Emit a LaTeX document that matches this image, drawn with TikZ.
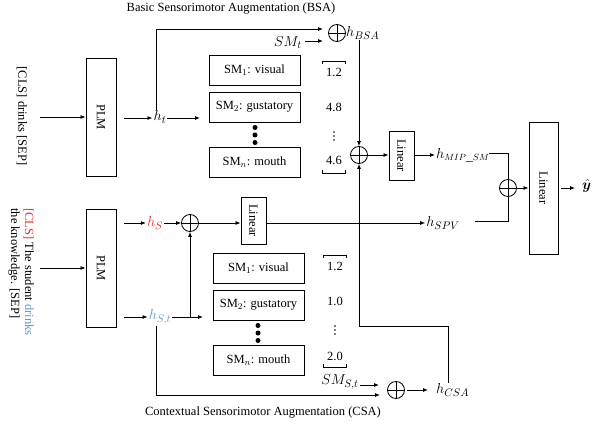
\documentclass[tikz,border=0pt]{standalone}
\usepackage{fontspec}
\setmainfont{Liberation Serif}
\usepackage{bm}
\usetikzlibrary{arrows.meta}
\definecolor{myred}{RGB}{250,40,40}
\definecolor{myblue}{RGB}{90,150,215}
\tikzset{
  every node/.style={font=\fontsize{12.5}{14}\selectfont},
  ln/.style={line width=0.8pt},
  ar/.style={line width=0.8pt,-{Latex[length=5pt,width=4pt]}},
  vbox/.style={draw,line width=0.9pt,inner sep=0,minimum width=#1},
  smbox/.style={draw,line width=0.9pt,inner sep=0,minimum width=91pt,minimum height=30pt},
  opl/.style={circle,draw,line width=0.8pt,inner sep=0,minimum size=17pt,
    path picture={\draw[line width=0.8pt] (path picture bounding box.north)--(path picture bounding box.south)
    (path picture bounding box.west)--(path picture bounding box.east);}},
  lab/.style={inner sep=1pt,font=\fontsize{15}{17}\selectfont},
  sdot/.style={circle,fill,inner sep=0,minimum size=1.6pt},
  bdot/.style={circle,fill,inner sep=0,minimum size=5pt},
}
\begin{document}
\begin{tikzpicture}[x=1pt,y=-1pt]
\useasboundingbox (0,0) rectangle (598,428);
% titles
\node (t1) at (231,9) {Basic Sensorimotor Augmentation (BSA)};
\node (t2) at (263,413) {Contextual Sensorimotor Augmentation (CSA)};
% ---------- top branch ----------
\node[rotate=-90] (in1) at (22,116) {[CLS] drinks [SEP]};
\node[vbox=30pt,minimum height=118pt] (plm1) at (101,117) {};
\node[rotate=-90] at (plm1.center) {PLM};
\coordinate (in1e) at (40,117);
\draw[ar] (in1e) -- (plm1.west);
\node[lab] (ht) at (160,117) {$h_t$};
\coordinate (plm1o) at (124,118);
\draw[ar] (plm1o) -- (ht.west |- plm1o);
\node[smbox] (a1) at (254.5,70.5) {SM$_1$: visual};
\node[smbox] (a2) at (254.5,107) {SM$_2$: gustatory};
\node[smbox] (a3) at (254.5,162) {SM$_n$: mouth};
\node[bdot] (ad1) at (255,127.5) {};
\node[bdot] (ad2) at (255,135) {};
\node[bdot] (ad3) at (255,142.5) {};
\coordinate (hte) at (200,118);
\draw[ar] (ht.east |- hte) -- (hte);
% values top
\node (v1) at (334,72) {1.2};
\node (v2) at (334,107) {4.8};
\node[sdot] (v3a) at (334,132) {};
\node[sdot] (v3b) at (334,136) {};
\node[sdot] (v3c) at (334,140) {};
\node (v4) at (334,160) {4.6};
\draw[line width=0.6pt] (322,64)--(322,61)--(345,61)--(345,64);
\draw[line width=0.6pt] (322,170)--(322,173)--(345,173)--(345,170);
% BSA oplus
\node[opl] (obsa) at (337,33) {};
\coordinate (htup) at (156,29);
\coordinate (htupe) at (323,29);
\draw[ar] (ht.north -| htup) -- (htup) -- (htupe);
\node[lab] (smt) at (288,43) {$SM_t$};
\coordinate (smte) at (323,41);
\draw[ar] (smt.east |- smte) ++(2,0) -- (smte);
\node[lab,anchor=west] (hbsa) at (345,33) {$h_{BSA}$};
% middle oplus
\node[opl] (omid) at (359,155) {};
\draw[ar] (hbsa.south -| omid) -- (omid.north);
\node[vbox=25pt,minimum height=49pt] (lin1) at (401.5,155.5) {};
\node[rotate=-90] at (lin1.center) {Linear};
\draw[ar] (omid.east) -- (lin1.west |- omid.east);
\node[lab,anchor=west,font=\fontsize{13.5}{15}\selectfont] (hmip) at (435,155) {$h_{MIP\_SM}$};
\draw[ar] (lin1.east |- hmip.west) -- (hmip.west);
% final
\node[opl] (ofin) at (508,188) {};
\node[vbox=29pt,minimum height=132pt] (lin2) at (543.5,188) {};
\node[rotate=-90] at (lin2.center) {Linear};
\draw[ar] (ofin.east) -- (lin2.west |- ofin.east);
\node[lab,anchor=west] (yhat) at (581,186) {$\hat{\bm y}$};
\coordinate (ye) at (575,188);
\draw[ar] (lin2.east |- ye) ++(3,0) -- (ye);
\node[lab] (hspv) at (443,223) {$h_{SPV}$};
\coordinate (hm2) at (489,153);
\coordinate (hs2) at (475,221);
\draw[ln] (hm2) -- (ofin.north |- hm2) -- (ofin.north);
\draw[ln] (ofin.south) -- (ofin.south |- hs2) -- (hs2);
% ---------- bottom branch ----------
\node[rotate=-90,align=left] (in2) at (21,272) {\textcolor{myred}{[CLS]} The student \textcolor{myblue}{drinks}\\the knowledge. [SEP]};
\node[vbox=30pt,minimum height=118pt] (plm2) at (101,268) {};
\node[rotate=-90] at (plm2.center) {PLM};
\coordinate (in2e) at (40,268);
\draw[ar] (in2e) -- (plm2.west);
\node[lab,text=myred] (hs) at (155,223) {$h_S$};
\node[lab,text=myblue] (hst) at (160,317) {$h_{S,t}$};
\coordinate (plm2a) at (124,223);
\coordinate (plm2b) at (124,317);
\draw[ar] (plm2a) -- (hs.west |- plm2a);
\draw[ar] (plm2b) -- (hst.west |- plm2b);
\node[opl] (os) at (190,223) {};
\draw[ar] (hs.east |- os.west) -- (os.west);
\node[vbox=25pt,minimum height=47pt] (lin3) at (253.5,220.5) {};
\node[rotate=-90] at (lin3.center) {Linear};
\draw[ar] (os.east) -- (lin3.west |- os.east);
\draw[ar] (lin3.east |- os.east) -- (hspv.west |- os.east);
\node[smbox] (b1) at (258.5,268) {SM$_1$: visual};
\node[smbox] (b2) at (258.5,305) {SM$_2$: gustatory};
\node[smbox] (b3) at (258.5,360) {SM$_n$: mouth};
\node[bdot] (bd1) at (258,325.5) {};
\node[bdot] (bd2) at (258,333) {};
\node[bdot] (bd3) at (258,340.5) {};
\coordinate (hste) at (203,317);
\draw[ar] (hst.east |- hste) -- (hste);
\draw[ar] (os.south |- hste) -- (os.south);
% values bottom
\node (w1) at (335,266) {1.2};
\node (w2) at (335,301) {1.0};
\node[sdot] (w3a) at (335,326) {};
\node[sdot] (w3b) at (335,330) {};
\node[sdot] (w3c) at (335,334) {};
\node (w4) at (335,356) {2.0};
\draw[line width=0.6pt] (323,258)--(323,255)--(346,255)--(346,258);
\draw[line width=0.6pt] (323,364)--(323,367)--(346,367)--(346,364);
% CSA
\node[opl] (ocsa) at (396,390) {};
\node[lab] (smst) at (340,382) {$SM_{S,t}$};
\coordinate (smste) at (379,385);
\draw[ar] (smst.east |- smste) -- (smste);
\coordinate (hstdn) at (156,395);
\coordinate (csain) at (380,395);
\draw[ar] (hst.south -| hstdn) -- (hstdn) -- (csain);
\node[lab,anchor=west] (hcsa) at (435,390) {$h_{CSA}$};
\coordinate (csao) at (428,390);
\draw[ar] (ocsa.east) ++(2,0) -- (csao);
\coordinate (up1) at (448,326);
\draw[ar] (hcsa.north -| up1) -- (up1) -- (omid.south |- up1) -- (omid.south);
\end{tikzpicture}
\end{document}
